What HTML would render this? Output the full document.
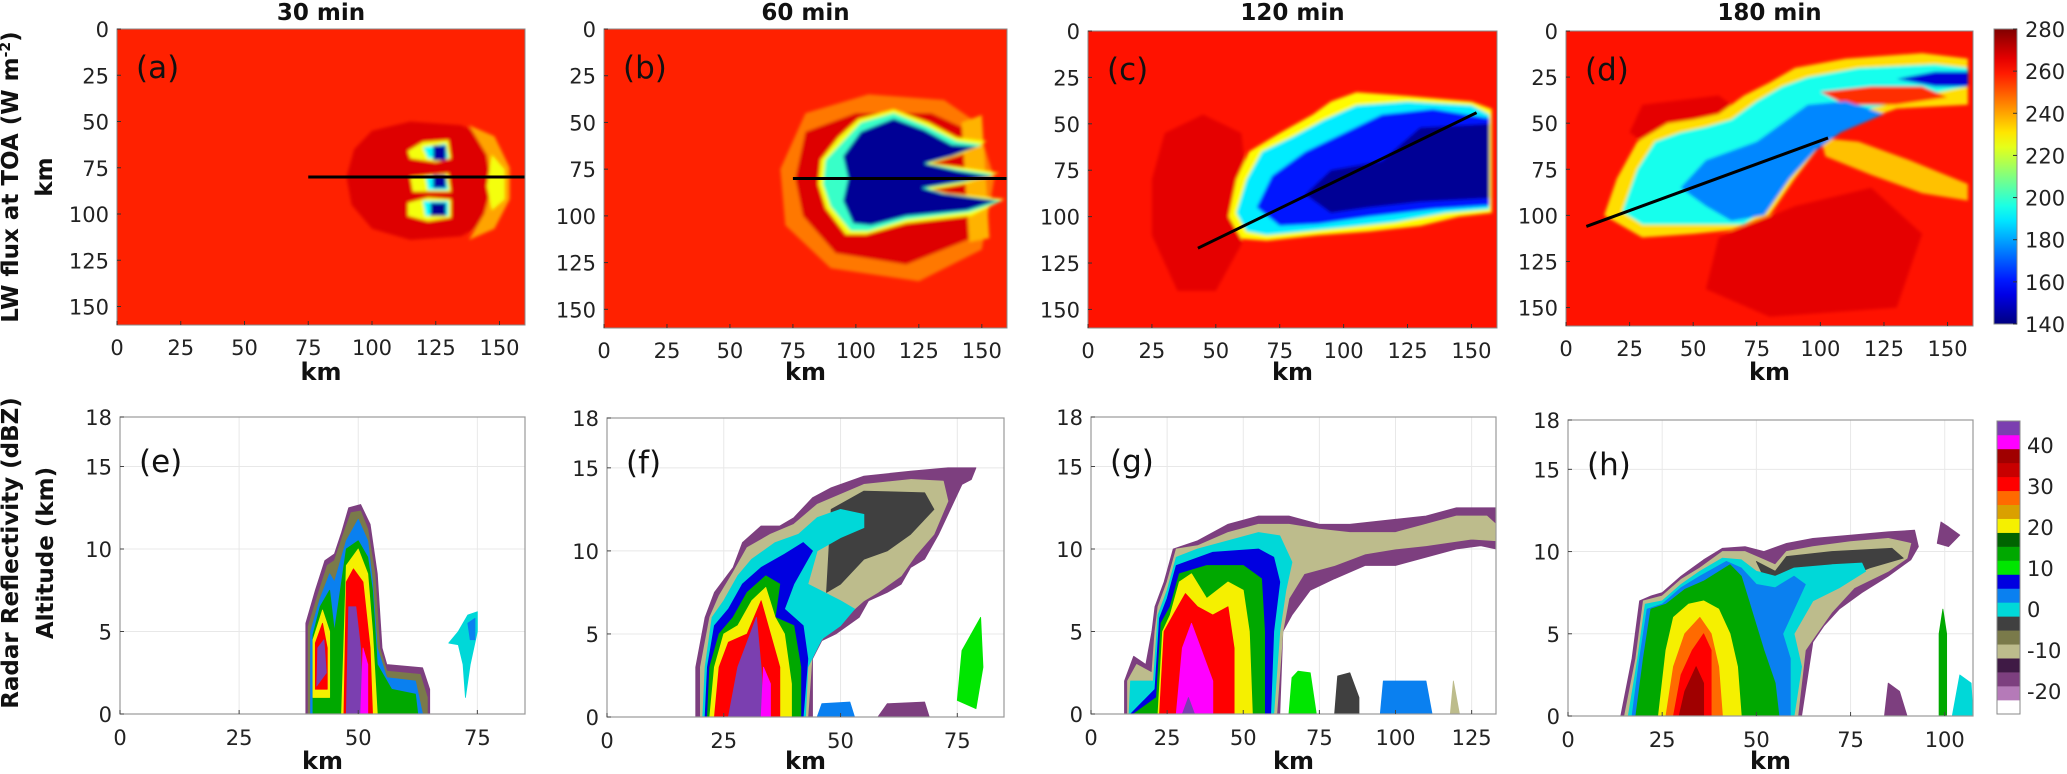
<!DOCTYPE html>
<html><head><meta charset="utf-8"><style>
html,body{margin:0;padding:0;background:#fff;}
svg{display:block;font-family:"DejaVu Sans","Liberation Sans",sans-serif;}
.tk{font-size:21px;fill:#222;}
.bl{font-weight:bold;fill:#111;}
</style></head><body>
<svg id="fig" width="2067" height="774" viewBox="0 0 2067 774" xmlns="http://www.w3.org/2000/svg">
<defs>
<filter id="soft" x="-5%" y="-5%" width="110%" height="110%"><feGaussianBlur stdDeviation="1.6"/></filter>
<linearGradient id="jetgrad" x1="0" y1="1" x2="0" y2="0"></linearGradient>
</defs>
<g id="root"></g>
</svg>
<script>
// ---------- data ----------
const topTitles = ["30 min","60 min","120 min","180 min"];
const topLetters = ["(a)","(b)","(c)","(d)"];
const botLetters = ["(e)","(f)","(g)","(h)"];
const topTicks = [0,25,50,75,100,125,150];
const botYTicks = [0,5,10,15,18];
const botXMax = [85,85,133,107.5];
const botXTicks = [[0,25,50,75],[0,25,50,75],[0,25,50,75,100,125],[0,25,50,75,100]];
const jetTicks = [140,160,180,200,220,240,260,280];
const dbzTicks = [40,30,20,10,0,-10,-20];
const dbzColors = ['#ffffff','#b57ab8','#7d3f7f','#3f1a45','#bdbc8c','#7a7a4a','#404040','#00d8d8','#0a80f0','#0000e0','#00e600','#00a800','#006400','#f5f000','#daa000','#ff6a00','#ff0000','#c80000','#a00000','#ff00ff','#7b3fb0'];
const backgroundFlux = [258,258,260,260];
const transects = [[[75,80],[160,80]],[[75,80],[160,80]],[[43,117],[152,44]],[[8,106],[103,58]]];

const aBlobs = [
 {v:267,pts:[[100,55],[115,50],[135,52],[148,60],[152,80],[148,102],[135,112],[115,114],[100,108],[92,95],[90,80],[93,65]]},
 {v:240,pts:[[138,52],[148,58],[154,75],[154,92],[148,108],[138,114],[144,100],[147,85],[145,68]]},
 {v:226,pts:[[147,68],[152,76],[152,92],[147,98],[145,85]]},
 {v:226,pts:[[114,66],[120,61],[130,60],[131,70],[125,72],[115,70]]},
 {v:192,pts:[[120,64],[129,62],[130,70],[122,70]]},
 {v:145,pts:[[124,63],[129,63],[129,71],[124,71]]},
 {v:226,pts:[[115,80],[130,78],[131,88],[116,88]]},
 {v:192,pts:[[121,80],[129,79],[130,87],[122,87]]},
 {v:145,pts:[[124,79],[129,79],[129,86],[124,86]]},
 {v:226,pts:[[114,94],[122,91],[131,92],[131,102],[122,104],[114,101]]},
 {v:192,pts:[[120,93],[130,93],[130,101],[121,101]]},
 {v:143,pts:[[123,94],[129,94],[129,101],[123,101]]}
];
const bBlobs = [
 {v:246,pts:[[80,45],[105,35],[135,38],[148,50],[155,80],[150,118],[125,135],[90,128],[72,105],[70,75]]},
 {v:267,pts:[[80,55],[100,45],[130,45],[146,55],[150,80],[146,112],[120,126],[92,120],[79,100],[76,80]]},
 {v:238,pts:[[142,50],[150,46],[153,112],[145,114]]},
 {v:226,pts:[[86,70],[93,58],[101,48],[115,43],[129,50],[140,58],[152,60],[142,67],[130,72],[142,74],[157,77],[143,83],[130,86],[137,88],[159,91],[146,100],[120,104],[104,110],[96,110],[88,96],[85,83]]},
 {v:200,pts:[[88,70],[95,60],[102,50],[115,45],[128,52],[140,60],[150,62],[140,67],[128,72],[140,75],[155,78],[142,82],[128,85],[135,88],[158,92],[145,98],[120,102],[105,108],[98,108],[90,95],[87,83]]},
 {v:143,pts:[[95,68],[102,55],[115,48],[127,54],[138,62],[148,63],[138,68],[127,72],[140,76],[154,79],[140,82],[126,85],[134,88],[156,92],[144,97],[120,100],[106,105],[99,104],[95,92],[97,80]]}
];
const cBlobs = [
 {v:266,pts:[[30,55],[45,45],[60,55],[62,80],[60,115],[50,140],[35,140],[25,110],[25,80]]},
 {v:228,pts:[[55,100],[58,80],[63,65],[75,55],[88,45],[95,38],[105,33],[125,35],[150,38],[158,42],[158,98],[145,100],[130,105],[110,108],[90,110],[70,113],[60,112]]},
 {v:190,pts:[[58,98],[62,80],[68,65],[80,57],[92,48],[105,40],[125,38],[150,40],[157,45],[157,96],[140,98],[120,103],[100,106],[85,108],[70,110],[62,108]]},
 {v:160,pts:[[66,95],[72,78],[85,65],[100,55],[115,45],[135,42],[157,47],[157,94],[135,96],[110,100],[90,104],[75,105]]},
 {v:143,pts:[[85,88],[95,75],[115,70],[130,52],[157,50],[157,90],[130,92],[110,95],[95,98]]}
];
const dBlobs = [
 {v:266,pts:[[30,40],[60,35],[75,50],[60,70],[40,70],[25,55]]},
 {v:266,pts:[[60,112],[90,95],[120,85],[140,110],[130,150],[80,155],[55,140]]},
 {v:232,pts:[[15,100],[20,80],[28,60],[40,50],[50,48],[60,45],[70,35],[80,28],[90,20],[110,15],[140,12],[158,15],[158,40],[130,42],[110,52],[100,62],[90,80],[80,100],[65,108],[50,110],[30,112]]},
 {v:236,pts:[[100,58],[115,60],[135,70],[158,83],[158,92],[140,88],[120,78],[102,68]]},
 {v:195,pts:[[22,98],[28,75],[35,60],[45,55],[55,52],[65,48],[75,38],[85,30],[95,25],[115,20],[145,18],[158,20],[158,30],[140,35],[120,42],[105,50],[95,60],[88,75],[80,95],[70,105],[50,105],[30,105]]},
 {v:256,pts:[[100,33],[120,30],[140,30],[150,36],[130,40],[110,40]]},
 {v:176,pts:[[45,85],[55,70],[65,65],[75,60],[85,50],[95,40],[110,38],[125,45],[108,55],[98,65],[88,80],[78,100],[65,103],[55,95]]},
 {v:152,pts:[[130,26],[145,22],[158,22],[158,30],[145,30]]}
];
const topBlobs = [aBlobs,bBlobs,cBlobs,dBlobs];

const eLayers = [
 {v:-17,pts:[[39,0],[39,5.5],[41,7.5],[43,9.3],[45,9.7],[46.5,11],[48,12.5],[50.5,12.7],[52.5,11.5],[54,8.5],[55,4],[56,3],[63.5,2.8],[65,1.5],[65,0]]},
 {v:-8,pts:[[39.5,0],[39.5,5.3],[41.5,7.2],[43.5,9],[45,9.3],[47,11],[48.5,12.2],[50.5,12.3],[52,11.2],[53.5,8.5],[54.5,4],[56,2.6],[63,2.4],[64.5,1],[64.5,0]]},
 {v:2,pts:[[40,0],[40,5],[42,7],[44,8.5],[45,8],[47.5,10.5],[50,11.8],[52,10.5],[53,8],[54,4],[56,2.2],[62,2],[63.5,0]]},
 {v:12,pts:[[40.5,0],[40.5,4.8],[42,6.5],[44,7.5],[45,5],[47.5,10],[50,10.5],[52,9.5],[53,7.5],[54,3],[57,1.5],[62,1.2],[62.5,0]]},
 {v:22,pts:[[40.5,1],[40.5,4.5],[42.5,6.3],[44,5],[44,1]]},
 {v:22,pts:[[46.5,0],[47.5,9],[50,10],[52,8.5],[53,5],[54,0]]},
 {v:32,pts:[[41,1.5],[41,4.3],[42.5,5.5],[43.5,4],[43.5,1.5]]},
 {v:32,pts:[[47,0],[47.5,8],[49,8.8],[51,8],[52.5,4],[53,0]]},
 {v:45,pts:[[41.3,1.7],[41.5,4],[42.8,4.5],[43.3,2.5]]},
 {v:45,pts:[[47.5,0],[48,6.5],[49.5,6.5],[50.5,4],[51,0]]},
 {v:42,pts:[[50.5,0],[51,4],[52,3],[52,0]]},
 {v:0,pts:[[69,4.3],[71,5],[73,6],[75,6.2],[75,5],[73.5,3],[72.5,1],[72,3],[71,4.2]]},
 {v:5,pts:[[73,5.5],[74.5,5.8],[74.5,4.5],[73.5,4.5]]}
];
const fLayers = [
 {v:-17,pts:[[19,0],[19,3],[21,6],[23,7.5],[27,9],[29,10.5],[33,11.5],[37,11.5],[40,12],[44,13.2],[48,13.8],[55,14.5],[65,14.8],[73,15],[79,15],[78,14.3],[76,14],[71,11],[68,9.5],[65,9],[63,8],[60,7.5],[56,7],[54,6],[49,5],[46,4.6],[44,3.5],[44,0]]},
 {v:-9,pts:[[20,0],[20,3],[22,6],[24,7.3],[27,8.7],[30,10.2],[35,11],[40,11.6],[45,12.8],[55,14],[65,14.3],[72,14.2],[73,13],[70,11],[66,9.7],[63,8.5],[58,7.5],[55,7],[51,6],[47,5],[44,4],[43,0]]},
 {v:-5,pts:[[48,12.5],[55,13.6],[68,13.5],[70,12.5],[65,11],[60,10],[55,9.5],[50,8],[47,7.5]]},
 {v:0,pts:[[20.5,0],[21,3],[22.5,6],[25,7],[28,8.5],[31,9.5],[36,10.5],[41,11],[45,12],[50,12.5],[55,12.2],[55,11.4],[50,10.8],[45,10],[43,8],[50,7],[53,6.5],[50,5.5],[46,4.7],[43,3],[42.5,0]]},
 {v:6,pts:[[21,0],[21.5,3],[23,5.5],[26,6.5],[29,8],[33,9],[38,9.8],[42,10.5],[44,10],[40,8],[38,6.5],[42,5.5],[43,3.5],[42,0]]},
 {v:12,pts:[[21.5,0],[22,3],[24,5],[27,6],[30,7.5],[34,8.5],[37,8],[36,6],[40,5.5],[41.5,3],[41.5,0]]},
 {v:22,pts:[[22,0],[23,3],[25,5],[28,5.5],[31,7],[34,7.8],[36,6],[38,5],[39.5,2],[39.5,0]]},
 {v:32,pts:[[23,0],[24,3],[26,4.5],[30,5],[33,7],[35,5],[37,3],[37,0]]},
 {v:44,pts:[[26,0],[28,3],[30,4.5],[32,6],[33,3],[33.5,0]]},
 {v:41,pts:[[33,0],[33.5,3],[35,2],[35,0]]},
 {v:10,pts:[[75,1],[76,4],[78,5],[80,6],[80.5,3],[79,0.5]]},
 {v:5,pts:[[45,0],[46,0.8],[52,0.9],[53,0]]},
 {v:-17,pts:[[58,0],[60,0.8],[68,0.9],[69,0]]}
];
const gLayers = [
 {v:-17,pts:[[11,0],[11,2],[14,3.5],[18,3],[20,5],[21,6.5],[24,8],[27,10],[35,10.5],[45,11.5],[55,12],[65,12],[75,11.5],[85,11.5],[100,11.8],[110,12],[120,12.5],[133,12.5],[133,10],[128,10.2],[120,10],[110,9.5],[100,9],[90,9],[80,8.2],[72,7.5],[66,6],[63,5],[62,0]]},
 {v:-9,pts:[[12,0],[12,2],[15,3],[20,2.5],[21,5],[22,6.5],[25,8],[28,10],[35,10.2],[45,11],[55,11.5],[65,11.5],[75,11.2],[85,11],[100,11],[110,11.5],[120,12],[130,12],[133,11.5],[133,10.5],[125,10.6],[110,10.2],[100,10],[90,9.7],[80,9],[70,8.5],[65,7],[63,5],[61,0]]},
 {v:0,pts:[[12.5,0],[13,2],[20.5,2],[22,6],[25,7.5],[28,9.5],[35,10],[45,10.5],[55,11],[62,10.8],[66,9.2],[64,7.5],[62,5],[60,0]]},
 {v:6,pts:[[13,0],[21,1.5],[22.5,5.8],[25,7],[28,9],[40,9.8],[55,10],[60,9.5],[62,8],[60,5],[59,0]]},
 {v:12,pts:[[14,0],[21.5,1],[23,5.5],[26,6.5],[29,8.5],[38,9],[50,9],[56,8.2],[57,5],[57,0]]},
 {v:22,pts:[[22,0],[23.5,5],[26,6],[29,8],[33,8.5],[38,7],[45,8],[50,7.5],[52,5],[53,0]]},
 {v:32,pts:[[22.5,0],[24,5],[27,6],[31,7.3],[35,6.5],[40,6],[45,6.5],[47,4],[47,0]]},
 {v:41,pts:[[28,0],[30,4],[33,5.5],[36,4],[40,2],[40,0]]},
 {v:44,pts:[[30,0],[32,1],[34,0]]},
 {v:10,pts:[[65,0],[66,2.2],[68,2.6],[72,2.5],[74,0]]},
 {v:-5,pts:[[80,0],[81,2.3],[85,2.5],[88,1],[88,0]]},
 {v:5,pts:[[95,0],[96,2],[110,2],[112,0]]},
 {v:-10,pts:[[118,0],[119,2],[121,0]]}
];
const hLayers = [
 {v:-17,pts:[[14,0],[17,3.5],[19,7],[22,7.3],[25,7.5],[30,8.5],[33,9],[36,9.5],[41,10.2],[47,10.3],[52,10],[58,10.5],[65,10.8],[75,11],[85,11.2],[92,11.3],[93,10.3],[91,9.5],[85,8.5],[78,7.5],[72,6.5],[68,5.5],[65,4.5],[62,0]]},
 {v:-9,pts:[[15,0],[18,3.5],[20,7],[25,7.3],[30,8.3],[35,9],[41,10],[47,10],[52,9.5],[55,9.2],[58,10],[65,10.3],[75,10.6],[85,10.8],[91,10.5],[90,9.6],[85,8.8],[76,7.8],[70,6.3],[66,5],[63,4],[61,0]]},
 {v:-5,pts:[[50,9.4],[55,8.8],[58,9.7],[70,10],[86,10.2],[89,9.6],[80,9],[70,8],[63,7],[58,6.5],[55,7]]},
 {v:0,pts:[[16,0],[18.5,3.5],[20.5,6.8],[25,7],[30,8],[35,8.8],[41,9.6],[46,9.5],[50,8.8],[55,8.5],[60,9],[70,9.2],[78,9.3],[79,8.8],[72,7.8],[65,7],[60,5],[62,3],[60,0]]},
 {v:5,pts:[[17,0],[19,3.5],[21,6.5],[25,6.8],[30,7.8],[35,8.5],[42,9.4],[46,9],[50,8],[55,7.8],[60,8.5],[63,8],[60,6.5],[57,5],[59,3.5],[59,0]]},
 {v:12,pts:[[18,0],[20,3.5],[22,6.5],[26,6.8],[31,7.7],[36,8.2],[43,9.2],[46,8.5],[48,7],[50,5.5],[52,4],[55,2],[56,0]]},
 {v:15,pts:[[46,0],[47,5],[48,7],[50,5],[53,0]]},
 {v:22,pts:[[24,0],[26,4],[28,6],[32,6.8],[36,7],[40,6.5],[43,5],[45,3],[46,0]]},
 {v:28,pts:[[26,0],[28,3],[31,5],[35,6],[38,5],[40,3],[41,0]]},
 {v:32,pts:[[28,0],[30,2.5],[33,4],[36,5],[38,4],[38,0]]},
 {v:36,pts:[[29.5,0],[31,1.5],[34,3],[36,2],[36,0]]},
 {v:-17,pts:[[98,10.5],[99,11.8],[101,11.5],[104,11],[101,10.3]]},
 {v:15,pts:[[98.5,0],[98.5,5],[99.5,6.5],[100.5,5],[100.5,0]]},
 {v:-17,pts:[[84,0],[85,2],[88,1.5],[90,0]]},
 {v:0,pts:[[102,0],[104,2.5],[107,2],[107.5,0]]}
];
const botLayers = [eLayers,fLayers,gLayers,hLayers];

// ---------- layout ----------
const topBoxes = [[117,525,29,325],[604,1007,29,328],[1088,1497,31,328],[1566,1973,31,326]];
const botBoxes = [[120,525,417,714],[607,1004,418,717],[1091,1496,417,714],[1568,1973,420,716]];
const NS="http://www.w3.org/2000/svg";
const root=document.getElementById('root');
function el(tag,attrs,parent){const e=document.createElementNS(NS,tag);for(const k in attrs)e.setAttribute(k,attrs[k]);(parent||root).appendChild(e);return e;}
function txt(s,attrs,parent){const e=el('text',attrs,parent);e.textContent=s;return e;}
function jet(v){const t=Math.max(0,Math.min(1,(v-140)/140));const c=x=>Math.round(255*Math.max(0,Math.min(1,1.5-Math.abs(4*t-x))));return `rgb(${c(3)},${c(2)},${c(1)})`;}
function dbzColor(v){let i=Math.floor((v+25.6)/3.405);i=Math.max(0,Math.min(20,i));return dbzColors[i];}

const grad=document.getElementById('jetgrad');
for(let i=0;i<=20;i++){const s=document.createElementNS(NS,'stop');s.setAttribute('offset',(i/20));s.setAttribute('stop-color',jet(140+140*i/20));grad.appendChild(s);}

// ---------- top panels ----------
topBoxes.forEach((b,i)=>{
  const [x0,x1,y0,y1]=b;
  const sx=v=>x0+(x1-x0)*v/160, sy=v=>y0+(y1-y0)*v/160;
  const g=el('g',{});
  
  
  const cp=el('clipPath',{id:'ct'+i},g);el('rect',{x:x0,y:y0,width:x1-x0,height:y1-y0},cp);
  const bg=el('rect',{x:x0,y:y0,width:x1-x0,height:y1-y0,fill:jet(backgroundFlux[i])},g);
  
  
  const cg=el('g',{'clip-path':'url(#ct'+i+')',filter:'url(#soft)'},g);
  topBlobs[i].forEach(bl=>{
    const p=el('polygon',{points:bl.pts.map(q=>sx(q[0])+','+sy(q[1])).join(' '),fill:jet(bl.v)},cg);
    
    
  });
  const tr=transects[i];
  const ln=el('line',{x1:sx(tr[0][0]),y1:sy(tr[0][1]),x2:sx(tr[1][0]),y2:sy(tr[1][1]),stroke:'#000','stroke-width':3},g);
  
  
  el('rect',{x:x0,y:y0,width:x1-x0,height:y1-y0,fill:'none',stroke:'#888','stroke-width':1},g);
  topTicks.forEach(t=>{
    el('line',{x1:sx(t),y1:y1,x2:sx(t),y2:y1-4,stroke:'#333'},g);
    el('line',{x1:x0,y1:sy(t),x2:x0+4,y2:sy(t),stroke:'#333'},g);
    const xl=txt(String(t),{x:sx(t),y:y1+30,'text-anchor':'middle',class:'tk'},g);
    
    
    const yl=txt(String(t),{x:x0-8,y:sy(t)+8,'text-anchor':'end',class:'tk'},g);
    
    
  });
  const ti=txt(topTitles[i],{x:(x0+x1)/2,y:20,'text-anchor':'middle',class:'bl','font-size':23},g);
  
  
  const le=txt(topLetters[i],{x:x0+19,y:y0+49,'font-size':31,fill:'#111'},g);
  
  
  const km=txt('km',{x:(x0+x1)/2,y:380,'text-anchor':'middle',class:'bl','font-size':24},g);
  
  
});

// ---------- bottom panels ----------
botBoxes.forEach((b,i)=>{
  const [x0,x1,y0,y1]=b, xm=botXMax[i];
  const sx=v=>x0+(x1-x0)*v/xm, sy=v=>y1-(y1-y0)*v/18;
  const g=el('g',{});
  
  
  const cp=el('clipPath',{id:'cb'+i},g);el('rect',{x:x0,y:y0,width:x1-x0,height:y1-y0},cp);
  el('rect',{x:x0,y:y0,width:x1-x0,height:y1-y0,fill:'#fff'},g);
  botXTicks[i].forEach(t=>el('line',{x1:sx(t),y1:y0,x2:sx(t),y2:y1,stroke:'#e8e8e8'},g));
  botYTicks.forEach(t=>el('line',{x1:x0,y1:sy(t),x2:x1,y2:sy(t),stroke:'#e8e8e8'},g));
  const cg=el('g',{'clip-path':'url(#cb'+i+')'},g);
  botLayers[i].forEach(l=>{
    const p=el('polygon',{points:l.pts.map(q=>sx(q[0])+','+sy(q[1])).join(' '),fill:dbzColor(l.v),stroke:dbzColor(l.v),'stroke-width':0.8,'stroke-linejoin':'round'},cg);
    
    
  });
  el('rect',{x:x0,y:y0,width:x1-x0,height:y1-y0,fill:'none',stroke:'#999','stroke-width':1.2},g);
  botXTicks[i].forEach(t=>{
    el('line',{x1:sx(t),y1:y1,x2:sx(t),y2:y1-4,stroke:'#444'},g);
    const xl=txt(String(t),{x:sx(t),y:y1+31,'text-anchor':'middle',class:'tk'},g);
    
    
  });
  botYTicks.forEach(t=>{
    el('line',{x1:x0,y1:sy(t),x2:x0+4,y2:sy(t),stroke:'#444'},g);
    const yl=txt(String(t),{x:x0-8,y:sy(t)+8,'text-anchor':'end',class:'tk'},g);
    
    
  });
  const le=txt(botLetters[i],{x:x0+19,y:y0+55,'font-size':31,fill:'#111'},g);
  
  
  const km=txt('km',{x:(x0+x1)/2,y:769,'text-anchor':'middle',class:'bl','font-size':24},g);
  
  
});

// ---------- y axis titles ----------
[["LW flux at TOA (W m","-2",")",18,177],["km","","",52,177],["Radar Reflectivity (dBZ)","","",18,553],["Altitude (km)","","",53,553]].forEach(a=>{
  const t=el('text',{transform:`translate(${a[3]},${a[4]}) rotate(-90)`,'text-anchor':'middle',class:'bl','font-size':23});
  
  
  t.appendChild(document.createTextNode(a[0]));
  if(a[1]){const s=document.createElementNS(NS,'tspan');s.setAttribute('baseline-shift','super');s.setAttribute('font-size','14');s.textContent=a[1];t.appendChild(s);t.appendChild(document.createTextNode(a[2]));}
});

// ---------- colorbars ----------
const cb1=el('rect',{x:1994,y:29,width:23,height:295,fill:'url(#jetgrad)',stroke:'#888'});


jetTicks.forEach(t=>{
  const y=324-(t-140)/140*295;
  el('line',{x1:2013,y1:y,x2:2017,y2:y,stroke:'#333'});
  const l=txt(String(t),{x:2025,y:y+8,class:'tk','font-size':22});
  
  
});
const cb2=el('g',{});


const bh=(714-421)/21;
dbzColors.forEach((c,i)=>el('rect',{x:1997,y:714-(i+1)*bh,width:23,height:bh+0.3,fill:c},cb2));
el('rect',{x:1997,y:421,width:23,height:293,fill:'none',stroke:'#888'},cb2);
dbzTicks.forEach(t=>{
  const y=609-t*4.1;
  const l=txt(String(t),{x:2027,y:y+8,class:'tk','font-size':22},cb2);
  
  
});
</script>
</body></html>
